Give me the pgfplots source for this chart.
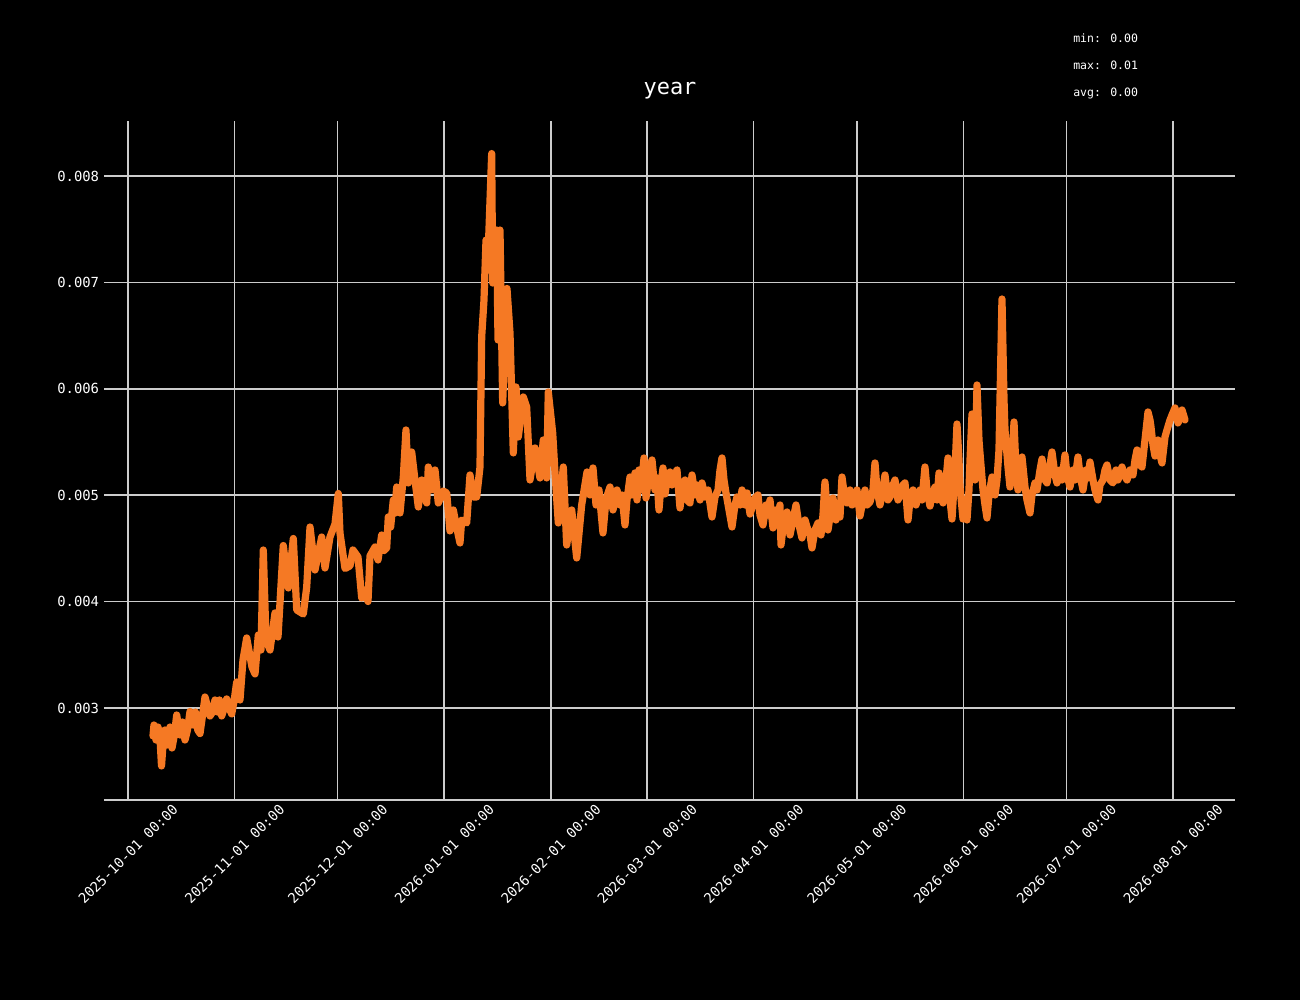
\documentclass[border=0pt]{standalone}
\usepackage{pgfplots}
\pgfplotsset{compat=1.18}
\usepackage{fontspec}
\setmainfont{DejaVu Sans Mono}
\definecolor{lineor}{RGB}{245,121,36}
\definecolor{gridc}{RGB}{204,204,204}
\pgfplotstableread{
x y
7.27 0.002737
7.56 0.002840
8.15 0.002699
8.73 0.002821
9.31 0.002718
9.75 0.002455
10.18 0.002652
10.76 0.002793
11.35 0.002652
12.22 0.002821
12.80 0.002624
13.50 0.002746
14.17 0.002934
14.60 0.002840
15.13 0.002746
15.80 0.002868
16.58 0.002699
17.30 0.002793
18.04 0.002967
18.91 0.002840
19.60 0.002962
20.30 0.002793
20.95 0.002760
21.70 0.002934
22.40 0.003103
23.10 0.003019
23.85 0.002925
24.60 0.002962
25.31 0.003075
26.00 0.002962
26.60 0.003075
27.26 0.002925
28.00 0.003000
28.71 0.003085
29.40 0.003000
30.17 0.002944
30.90 0.003075
31.62 0.003244
32.58 0.003075
33.45 0.003451
34.53 0.003658
36.07 0.003385
36.95 0.003320
37.91 0.003686
38.69 0.003545
39.36 0.004485
40.15 0.003639
41.31 0.003545
42.76 0.003893
43.64 0.003667
45.18 0.004527
46.63 0.004128
48.09 0.004593
49.08 0.003921
51.00 0.003883
51.99 0.004137
52.95 0.004701
54.40 0.004297
56.35 0.004607
57.31 0.004316
58.76 0.004607
60.22 0.004729
61.18 0.005016
61.67 0.004645
63.13 0.004311
64.58 0.004335
65.45 0.004485
66.91 0.004419
67.99 0.004034
68.95 0.004109
69.82 0.004001
70.40 0.004429
71.85 0.004513
72.73 0.004391
73.80 0.004626
74.50 0.004480
75.26 0.004504
75.72 0.004795
76.40 0.004700
77.18 0.004955
77.60 0.004830
78.17 0.005077
79.13 0.004833
80.09 0.005171
80.87 0.005613
81.54 0.005115
82.53 0.005406
83.49 0.005143
84.45 0.004889
85.44 0.005143
86.20 0.005000
86.90 0.004927
87.36 0.005265
88.30 0.005050
89.31 0.005237
90.27 0.004927
91.72 0.005039
92.71 0.005021
93.67 0.004664
94.63 0.004861
95.60 0.004700
96.58 0.004551
97.08 0.004767
98.53 0.004739
99.49 0.005190
100.45 0.004983
101.44 0.004983
102.40 0.005265
102.89 0.006487
103.56 0.006835
104.15 0.007398
104.73 0.007239
105.80 0.008211
106.09 0.006994
106.47 0.007211
107.26 0.007492
107.64 0.006459
108.22 0.007492
109.00 0.005867
109.67 0.006459
110.25 0.006943
111.13 0.006524
112.09 0.005397
112.87 0.006017
113.54 0.005547
114.99 0.005923
115.98 0.005829
116.95 0.005143
118.40 0.005444
119.85 0.005162
120.81 0.005519
121.80 0.005162
122.27 0.005970
123.55 0.005585
124.22 0.005209
125.18 0.004739
126.63 0.005265
127.62 0.004532
129.08 0.004861
130.53 0.004410
131.98 0.004908
133.53 0.005218
134.40 0.005002
135.27 0.005256
136.15 0.004908
137.02 0.005049
138.18 0.004645
139.05 0.004955
139.64 0.005021
140.22 0.005077
141.09 0.004861
142.25 0.005049
143.13 0.004908
143.71 0.005002
144.58 0.004720
145.16 0.004955
146.04 0.005171
146.62 0.005002
147.49 0.005209
148.07 0.004955
148.65 0.005237
149.24 0.005049
150.11 0.005350
150.69 0.004974
151.56 0.005190
152.44 0.005331
153.31 0.005049
153.89 0.005162
154.47 0.004861
155.05 0.005096
155.64 0.005256
156.22 0.005011
156.80 0.005143
157.67 0.005218
158.25 0.005096
158.84 0.005171
159.71 0.005237
160.58 0.004880
161.16 0.005049
162.04 0.005143
162.62 0.004955
163.49 0.004927
164.07 0.005190
164.95 0.005002
165.53 0.005096
166.40 0.004955
166.98 0.005115
167.85 0.004983
168.73 0.005049
169.89 0.004795
170.76 0.004983
171.64 0.005049
172.22 0.005237
172.80 0.005350
173.38 0.005143
173.96 0.005021
174.84 0.004861
175.71 0.004701
176.58 0.004908
177.16 0.004983
178.04 0.004908
178.62 0.005049
179.49 0.004908
180.07 0.005021
180.95 0.004823
181.82 0.004908
182.40 0.004974
183.27 0.005002
183.85 0.004814
184.73 0.004720
185.60 0.004908
186.18 0.004814
186.76 0.004955
187.64 0.004692
188.51 0.004861
189.09 0.004767
189.67 0.004908
189.96 0.004532
190.84 0.004767
191.71 0.004842
192.58 0.004626
193.45 0.004767
194.33 0.004908
195.20 0.004720
196.07 0.004598
196.95 0.004767
197.53 0.004701
198.40 0.004626
198.98 0.004504
199.85 0.004673
200.73 0.004739
201.60 0.004626
202.18 0.004814
202.76 0.005124
203.35 0.004861
203.64 0.004673
204.51 0.004861
205.09 0.004974
205.96 0.004767
206.55 0.004861
207.13 0.004795
207.71 0.005171
208.58 0.004955
209.16 0.004927
210.04 0.005049
210.62 0.004908
211.49 0.004936
212.07 0.005049
212.95 0.004805
213.82 0.004955
214.40 0.005049
214.98 0.004908
215.85 0.004936
216.73 0.005049
217.31 0.005303
217.89 0.005049
218.76 0.004908
219.35 0.005002
220.22 0.005190
221.09 0.004955
221.67 0.004983
222.55 0.005096
223.13 0.005143
224.00 0.004955
224.58 0.005002
225.45 0.005096
226.04 0.005115
226.91 0.004767
227.49 0.004955
228.36 0.005049
229.24 0.004908
230.40 0.005049
230.98 0.004955
231.85 0.005265
232.44 0.005049
233.31 0.004898
233.89 0.005002
234.76 0.005077
235.35 0.004955
235.93 0.005209
236.51 0.005002
237.09 0.004927
237.96 0.005143
238.55 0.005350
239.13 0.004955
239.71 0.004776
240.58 0.005237
241.16 0.005669
241.75 0.005331
242.04 0.005077
242.91 0.004776
243.49 0.004955
244.07 0.004767
244.65 0.005049
244.95 0.005331
245.53 0.005763
246.11 0.005237
246.40 0.005143
246.98 0.006036
247.56 0.005519
247.85 0.005397
248.73 0.005049
249.31 0.004908
249.89 0.004786
250.47 0.005002
251.35 0.005171
252.22 0.005002
252.80 0.005143
253.38 0.005425
253.67 0.005895
254.25 0.006844
254.84 0.005895
255.13 0.005613
256.00 0.005265
256.58 0.005077
257.16 0.005331
257.75 0.005688
258.33 0.005237
258.91 0.005049
259.49 0.005237
260.07 0.005359
260.95 0.005077
261.53 0.004955
262.40 0.004833
262.98 0.005002
263.85 0.005115
264.44 0.005049
265.31 0.005237
265.89 0.005340
266.76 0.005143
267.35 0.005115
268.22 0.005284
268.80 0.005406
269.67 0.005190
270.25 0.005115
271.13 0.005237
271.71 0.005143
272.58 0.005378
273.16 0.005190
274.04 0.005077
274.91 0.005237
275.49 0.005143
276.36 0.005359
276.95 0.005190
277.82 0.005049
278.69 0.005237
279.27 0.005162
279.85 0.005312
280.73 0.005143
281.31 0.005049
282.18 0.004955
282.76 0.005096
283.64 0.005143
284.22 0.005237
284.80 0.005284
285.67 0.005143
286.55 0.005115
287.42 0.005237
288.00 0.005143
289.16 0.005265
289.75 0.005190
290.62 0.005143
291.49 0.005237
292.36 0.005190
292.95 0.005331
293.53 0.005425
294.40 0.005284
294.98 0.005265
295.85 0.005519
296.73 0.005782
297.31 0.005707
297.60 0.005641
298.18 0.005472
298.76 0.005368
299.64 0.005519
300.22 0.005378
300.80 0.005303
301.67 0.005547
302.25 0.005613
303.13 0.005707
303.71 0.005754
304.58 0.005820
305.45 0.005679
306.04 0.005726
306.62 0.005801
307.49 0.005707
}\datatable
\begin{document}
\begin{tikzpicture}
\fill[black] (0pt,0pt) rectangle (936pt,720pt);
\useasboundingbox (0pt,0pt) rectangle (936pt,720pt);
\begin{axis}[
  at={(74.88pt,144pt)}, anchor=south west,
  width=814.32pt, height=488.88pt, scale only axis,
  xmin=-6.98, xmax=322.04,
  ymin=0.002135, ymax=0.008517,
  axis x line*=bottom, axis y line*=left,
  x axis line style={-, draw=gridc, line width=1pt},
  y axis line style={draw=none},
  major tick length=0pt,
  grid=major,
  major grid style={draw=gridc, line width=1.1pt},
  xtick={0,31,61,92,123,151,182,212,243,273,304},
  xticklabels={2025-10-01 00:00,2025-11-01 00:00,2025-12-01 00:00,2026-01-01 00:00,2026-02-01 00:00,2026-03-01 00:00,2026-04-01 00:00,2026-05-01 00:00,2026-06-01 00:00,2026-07-01 00:00,2026-08-01 00:00},
  ytick={0.003,0.004,0.005,0.006,0.007,0.008},
  scaled y ticks=false,
  yticklabel style={/pgf/number format/.cd, fixed, fixed zerofill, precision=3, assume math mode=true},
  every tick label/.append style={text=white, font=\fontsize{10}{12}\selectfont},
  xticklabel style={rotate=45, anchor=center},
  xticklabel shift=38.9pt,
  clip=false,
]
\addplot[draw=lineor, line width=5.2pt, line join=round, line cap=round] table[x=x,y=y] {\datatable};
\end{axis}
\node[anchor=base, text=white, font=\fontsize{15.8}{19}\selectfont, inner sep=0pt] at (482.4pt,651.6pt) {year};
\node[anchor=base west, text=white, font=\fontsize{8.3}{10}\selectfont, inner sep=0pt] at (772.56pt,689.5pt) {min: 0.00};
\node[anchor=base west, text=white, font=\fontsize{8.3}{10}\selectfont, inner sep=0pt] at (772.56pt,670.1pt) {max: 0.01};
\node[anchor=base west, text=white, font=\fontsize{8.3}{10}\selectfont, inner sep=0pt] at (772.56pt,650.7pt) {avg: 0.00};
\end{tikzpicture}
\end{document}
